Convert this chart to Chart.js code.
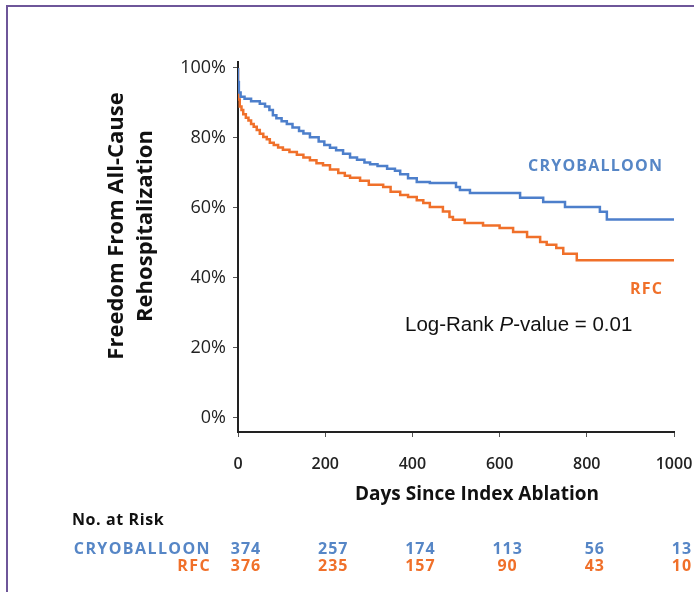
<!DOCTYPE html>
<html>
<head>
<meta charset="utf-8">
<script src="https://cdn.jsdelivr.net/npm/chart.js@4"></script>
<style>
  html, body { margin: 0; padding: 0; background: #fff; }
  #frame { position: absolute; left: 6px; top: 5px; width: 700px; height: 600px;
           border-left: 2px solid #6e5699; border-top: 2px solid #6e5699; }
  #kmChart { position: absolute; left: 0; top: 0; }
</style>
</head>
<body>
<div id="frame"></div>
<canvas id="kmChart" width="694" height="592"></canvas>
<script>
// Kaplan-Meier (dias, % livre de reinternação)
const cryoDays = [0, 2, 6, 15, 30, 50, 62, 72, 80, 88, 100, 112, 125, 140, 150, 165, 185, 198, 211, 225, 241, 257, 273, 290, 303, 320, 342, 360, 372, 390, 410, 440, 500, 509, 532, 647, 700, 750, 830, 846, 906, 1000];
const cryoSurv = [100, 96, 93, 91.8, 91.2, 90.5, 89.8, 89, 88, 86.5, 85.6, 84.8, 84, 83, 82, 81.3, 80.2, 79, 78, 77.2, 76.5, 75.5, 74.4, 73.8, 73, 72.5, 72, 71.2, 70.6, 69.6, 68.5, 67.4, 67.1, 66, 65.1, 64.3, 62.9, 61.7, 60.3, 58.9, 56.7, 56.7];

const rfcDays = [0, 1, 4, 8, 12, 18, 24, 30, 36, 43, 50, 58, 66, 73, 82, 92, 103, 118, 135, 150, 165, 180, 195, 211, 230, 245, 257, 280, 300, 333, 350, 372, 390, 410, 425, 440, 470, 485, 493, 520, 562, 600, 631, 663, 693, 708, 730, 746, 777, 846, 1000];
const rfcSurv = [100, 95, 91, 89, 88, 86.8, 85.8, 85, 84, 83.2, 82.3, 81.2, 80.3, 79.6, 78.6, 78, 77.3, 76.6, 76, 75.2, 74.4, 73.6, 72.8, 72.2, 71, 70, 69.2, 68.6, 67.8, 66.6, 66, 64.6, 63.7, 63.1, 62.2, 61.4, 60.3, 59, 57.4, 56.6, 55.7, 55, 54.3, 53.1, 51.7, 50.3, 49.5, 48.6, 46.9, 45.1, 45.1];

const xTicks = [0, 200, 400, 600, 800, 1000];
const yTicks = [0, 20, 40, 60, 80, 100];
const riskCryo = [374, 257, 174, 113, 56, 13];
const riskRfc = [376, 235, 157, 90, 43, 10];

const BLUE = '#4d7fcb';
const BLUE_TXT = '#5686c6';
const ORANGE = '#f0702a';

const toPts = (xs, ys) => xs.map((x, i) => ({ x: x, y: ys[i] }));

// textos extras: título do eixo y, rótulos, tabela de risco
const extras = {
    id: 'extras',
    afterDraw(chart) {
        const c = chart.ctx;
        const x = chart.scales.x, y = chart.scales.y;
        c.save();
        c.textBaseline = 'middle';

        // título eixo y
        c.save();
        c.translate(131, 226);
        c.rotate(-Math.PI / 2);
        c.textAlign = 'center';
        c.fillStyle = '#111';
        c.font = 'bold 22px "Open Sans"';
        c.fillText('Freedom From All-Cause', 0, -14);
        c.fillText('Rehospitalization', 0, 15);
        c.restore();

        // título eixo x
        c.textAlign = 'center';
        c.fillStyle = '#111';
        c.font = 'bold 19px "Open Sans"';
        c.fillText('Days Since Index Ablation', 477, 495);

        // rótulos das curvas
        c.letterSpacing = '1.2px';
        c.textAlign = 'right';
        c.font = 'bold 16px "Open Sans"';
        c.fillStyle = BLUE_TXT;
        c.fillText('CRYOBALLOON', x.getPixelForValue(975), y.getPixelForValue(72));
        c.fillStyle = ORANGE;
        c.fillText('RFC', x.getPixelForValue(975), y.getPixelForValue(36.6));
        c.letterSpacing = '0px';

        // log-rank
        c.textAlign = 'left';
        c.fillStyle = '#111';
        let tx = x.getPixelForValue(383), ty = y.getPixelForValue(26.6);
        const parts = [['Log-Rank ', ''], ['P', 'italic '], ['-value = 0.01', '']];
        parts.forEach(p => {
            c.font = p[1] + '20.5px "Liberation Sans"';
            c.fillText(p[0], tx, ty);
            tx += c.measureText(p[0]).width;
        });

        // tabela de risco
        c.letterSpacing = '0.6px';
        c.textAlign = 'left';
        c.fillStyle = '#111';
        c.font = 'bold 16px "Open Sans"';
        c.fillText('No. at Risk', 72, 520);
        c.letterSpacing = '1.4px';
        c.textAlign = 'right';
        c.fillStyle = BLUE_TXT;
        c.fillText('CRYOBALLOON', 211, 549);
        c.fillStyle = ORANGE;
        c.fillText('RFC', 211, 566);
        c.letterSpacing = '1px';
        c.textAlign = 'center';
        xTicks.forEach((t, i) => {
            const px = x.getPixelForValue(t) + 8;
            c.fillStyle = BLUE_TXT;
            c.fillText(String(riskCryo[i]), px, 549);
            c.fillStyle = ORANGE;
            c.fillText(String(riskRfc[i]), px, 566);
        });
        c.restore();
    }
};

const ctx = document.getElementById('kmChart').getContext('2d');

const kmChart = new Chart(ctx, {
    type: 'line',
    data: {
        datasets: [{
            label: 'CRYOBALLOON',
            data: toPts(cryoDays, cryoSurv),
            borderColor: BLUE,
            borderWidth: 2.5,
            stepped: 'after',
            pointRadius: 0,
            fill: false
        }, {
            label: 'RFC',
            data: toPts(rfcDays, rfcSurv),
            borderColor: ORANGE,
            borderWidth: 2.5,
            stepped: 'after',
            pointRadius: 0,
            fill: false
        }]
    },
    options: {
        responsive: false,
        animation: false,
        layout: { padding: { top: 62, right: 20, left: 0, bottom: 0 } },
        plugins: { legend: { display: false }, tooltip: { enabled: false } },
        scales: {
            x: {
                type: 'linear',
                min: 0,
                max: 1000,
                afterBuildTicks: s => { s.ticks = xTicks.map(v => ({ value: v })); },
                afterFit: s => { s.height = 160; s.paddingLeft = 0; s.paddingRight = 0; },
                grid: { drawOnChartArea: false, drawTicks: true, tickLength: 5, color: '#555' },
                border: { display: true, color: '#222', width: 2 },
                ticks: { color: '#222', font: { family: 'Open Sans', size: 16, weight: '600' }, padding: 18, maxRotation: 0, callback: v => String(v) }
            },
            y: {
                min: -4,
                max: 101.7,
                afterBuildTicks: s => { s.ticks = yTicks.map(v => ({ value: v })); },
                afterFit: s => { s.width = 238; s.paddingTop = 0; s.paddingBottom = 0; },
                grid: { drawOnChartArea: false, drawTicks: true, tickLength: 5, color: '#555' },
                border: { display: true, color: '#222', width: 2 },
                ticks: { color: '#222', font: { family: 'Open Sans', size: 18 }, padding: 7, callback: v => v + '%' }
            }
        }
    },
    plugins: [extras]
});
</script>
</body>
</html>
